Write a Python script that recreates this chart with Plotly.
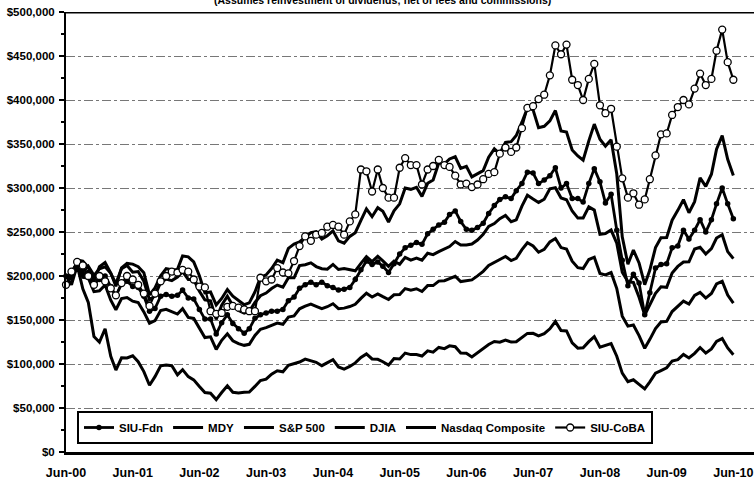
import pandas as pd
import plotly.graph_objects as go

# Monthly values, Jun-00 .. Jun-10 (thousands of dollars)
months = pd.date_range("2000-06-01", periods=121, freq="MS")

siu_fdn = [200, 199, 212, 202, 204, 191, 196, 200, 188, 177, 191, 194,
           188, 187, 177, 160, 163, 177, 179, 177, 178, 184, 175, 174,
           162, 151, 151, 134, 147, 156, 146, 140, 135, 140, 152, 156,
           158, 160, 160, 162, 172, 176, 186, 190, 193, 190, 193, 189,
           187, 184, 185, 187, 196, 207, 217, 213, 216, 211, 204, 214,
           225, 232, 235, 238, 236, 248, 253, 258, 261, 270, 274, 262,
           253, 252, 255, 260, 271, 280, 287, 290, 288, 297, 305, 318,
           317, 305, 309, 314, 323, 300, 305, 288, 288, 284, 305, 322,
           307, 283, 293, 252, 218, 189, 202, 192, 156, 181, 209, 213,
           214, 232, 234, 252, 242, 252, 264, 250, 264, 282, 300, 282,
           265]

mdy = [200.0, 196.2, 218.3, 217.0, 209.9, 194.2, 210.5, 215.4, 203.4, 188.3, 209.2, 214.3,
       213.5, 210.6, 203.8, 178.5, 186.5, 200.3, 208.3, 207.2, 207.5, 222.7, 221.8, 216.0,
       200.3, 180.8, 181.8, 167.2, 174.5, 184.7, 177.1, 172.2, 167.4, 169.5, 181.9, 198.4,
       201.3, 208.5, 218.0, 215.1, 231.4, 236.4, 238.7, 244.1, 249.3, 250.3, 242.0, 245.8,
       251.3, 239.9, 237.3, 245.0, 249.2, 263.1, 276.3, 267.4, 277.6, 273.6, 261.4, 274.1,
       282.0, 299.9, 298.5, 300.8, 290.5, 305.3, 309.2, 328.5, 327.5, 333.0, 335.5, 322.3,
       324.6, 312.6, 316.0, 319.8, 335.1, 344.5, 338.9, 351.8, 352.6, 359.6, 374.8, 390.7,
       388.8, 368.6, 370.1, 376.3, 388.0, 364.9, 363.7, 343.3, 336.4, 331.5, 353.6, 372.6,
       355.4, 347.6, 354.7, 315.9, 244.5, 213.4, 229.4, 214.9, 190.1, 206.7, 232.3, 243.4,
       243.8, 263.4, 274.6, 286.7, 271.9, 284.5, 311.5, 301.8, 315.7, 344.0, 359.5, 332.6,
       314.1]

sp500 = [200.0, 197.0, 209.3, 198.4, 197.7, 182.2, 183.2, 189.8, 172.5, 161.7, 174.4, 175.5,
         171.4, 169.8, 159.2, 146.3, 149.2, 160.7, 162.2, 159.8, 156.8, 162.8, 153.0, 151.8,
         141.0, 130.0, 130.9, 116.6, 126.9, 134.3, 126.4, 123.2, 121.2, 122.4, 132.5, 139.5,
         141.4, 143.9, 146.6, 145.1, 153.3, 154.6, 162.7, 165.7, 168.0, 165.5, 162.9, 165.1,
         168.5, 162.9, 163.5, 165.3, 167.8, 174.6, 180.4, 176.1, 179.7, 176.5, 173.3, 178.6,
         179.0, 185.7, 183.9, 185.5, 182.4, 189.1, 189.1, 194.2, 194.6, 197.0, 199.7, 193.7,
         194.4, 195.6, 200.1, 205.3, 212.0, 215.8, 218.8, 222.2, 217.6, 220.1, 229.9, 237.8,
         234.2, 227.0, 230.3, 238.8, 242.6, 232.3, 230.6, 216.8, 209.5, 208.5, 218.7, 221.4,
         202.9, 201.2, 203.9, 185.7, 154.4, 143.0, 144.3, 132.2, 117.8, 128.0, 140.2, 147.8,
         148.4, 159.6, 165.1, 171.4, 168.2, 177.9, 181.4, 174.9, 180.2, 191.0, 194.0, 178.3,
         169.3]

djia = [200.0, 201.7, 215.3, 204.7, 211.1, 200.7, 208.2, 210.4, 203.1, 191.4, 208.3, 212.0,
        204.3, 205.0, 194.1, 172.9, 177.5, 193.0, 196.5, 194.8, 198.8, 204.9, 196.1, 196.0,
        182.7, 172.9, 171.7, 150.7, 166.9, 177.1, 166.3, 160.8, 157.8, 160.0, 169.9, 177.6,
        180.6, 185.8, 189.7, 187.2, 198.0, 198.0, 211.8, 212.8, 215.0, 210.7, 208.3, 207.8,
        213.2, 207.4, 208.4, 206.8, 205.9, 214.4, 222.0, 216.3, 222.3, 217.2, 211.0, 217.0,
        213.3, 221.2, 218.1, 220.3, 217.9, 225.9, 224.3, 227.7, 230.6, 233.5, 239.2, 235.3,
        235.2, 236.3, 240.8, 247.4, 256.3, 259.6, 265.1, 268.8, 261.7, 263.8, 279.4, 291.8,
        287.5, 283.6, 287.2, 299.1, 300.3, 288.6, 286.7, 273.8, 265.8, 266.0, 278.5, 274.9,
        247.3, 248.2, 252.2, 237.3, 204.2, 193.6, 192.7, 175.9, 155.5, 167.8, 180.3, 187.8,
        187.1, 203.4, 210.9, 215.9, 216.2, 230.6, 232.7, 225.0, 231.1, 243.2, 246.9, 227.7,
        219.8]

nasdaq = [200.0, 190.0, 212.2, 185.4, 170.1, 131.2, 124.8, 140.1, 108.8, 93.1, 107.0, 106.8,
          109.3, 102.6, 91.4, 75.9, 85.6, 97.9, 98.9, 98.0, 87.8, 93.6, 85.6, 82.0,
          74.4, 67.5, 66.8, 59.6, 67.6, 75.2, 67.8, 67.1, 68.0, 68.2, 74.5, 81.2,
          82.7, 88.5, 92.3, 91.1, 98.5, 100.0, 102.2, 105.5, 103.7, 101.9, 98.1, 101.7,
          104.9, 96.7, 94.2, 97.2, 101.2, 107.4, 111.5, 105.7, 105.3, 102.6, 98.7, 106.3,
          105.7, 112.4, 110.7, 110.7, 109.1, 114.9, 113.5, 118.8, 117.5, 120.6, 119.7, 112.4,
          112.1, 108.0, 112.7, 116.6, 122.2, 125.6, 124.8, 127.3, 124.9, 125.2, 130.6, 134.8,
          134.9, 131.9, 134.5, 140.0, 148.3, 138.0, 137.6, 124.1, 118.0, 118.4, 125.4, 131.1,
          119.2, 121.0, 123.2, 108.9, 89.6, 80.0, 82.1, 76.9, 71.8, 79.7, 89.5, 92.5,
          95.7, 103.3, 104.9, 110.8, 106.8, 112.1, 118.7, 112.4, 117.2, 125.6, 128.9, 118.3,
          110.5]

siu_coba = [190, 205, 216, 212, 200, 190, 200, 194, 186, 178, 192, 200,
            196, 190, 180, 166, 180, 194, 200, 205, 204, 207, 205, 196,
            188, 187, 160, 157, 158, 165, 166, 164, 162, 160, 160, 198,
            194, 196, 209, 204, 203, 217, 234, 245, 240, 247, 249, 256,
            258, 256, 247, 262, 270, 321, 319, 296, 321, 300, 289, 289,
            323, 334, 326, 326, 304, 321, 325, 332, 326, 324, 314, 304,
            305, 301, 304, 310, 316, 318, 339, 346, 341, 346, 368, 391,
            393, 401, 406, 428, 462, 452, 463, 423, 417, 400, 424, 441,
            394, 385, 390, 347, 311, 289, 294, 281, 287, 310, 337, 361,
            362, 383, 392, 400, 395, 413, 430, 417, 424, 456, 480, 443,
            423]

y_tick_vals = [0, 50, 100, 150, 200, 250, 300, 350, 400, 450, 500]
y_tick_text = ["$0", "$50,000", "$100,000", "$150,000", "$200,000", "$250,000",
               "$300,000", "$350,000", "$400,000", "$450,000", "$500,000"]
x_tick_vals = ["2000-06-01", "2001-06-01", "2002-06-01", "2003-06-01", "2004-06-01",
               "2005-06-01", "2006-06-01", "2007-06-01", "2008-06-01", "2009-06-01",
               "2010-06-01"]
x_tick_text = ["Jun-00", "Jun-01", "Jun-02", "Jun-03", "Jun-04", "Jun-05",
               "Jun-06", "Jun-07", "Jun-08", "Jun-09", "Jun-10"]

FONT = "Liberation Sans, Arial, sans-serif"

fig = go.Figure()
fig.add_trace(go.Scatter(x=months, y=siu_fdn, name="SIU-Fdn", mode="lines+markers",
                         line=dict(color="black", width=2.8),
                         marker=dict(symbol="circle", size=5.5, color="black"),
                         cliponaxis=False))
fig.add_trace(go.Scatter(x=months, y=mdy, name="MDY", mode="lines",
                         line=dict(color="black", width=3), cliponaxis=False))
fig.add_trace(go.Scatter(x=months, y=sp500, name="S&P 500", mode="lines",
                         line=dict(color="black", width=3), cliponaxis=False))
fig.add_trace(go.Scatter(x=months, y=djia, name="DJIA", mode="lines",
                         line=dict(color="black", width=3), cliponaxis=False))
fig.add_trace(go.Scatter(x=months, y=nasdaq, name="Nasdaq Composite", mode="lines",
                         line=dict(color="black", width=3), cliponaxis=False))
fig.add_trace(go.Scatter(x=months, y=siu_coba, name="SIU-CoBA", mode="lines+markers",
                         line=dict(color="black", width=2.2),
                         marker=dict(symbol="circle", size=7, color="white",
                                     line=dict(color="black", width=1.3)),
                         cliponaxis=False))

fig.add_shape(type="line", xref="paper", yref="y", x0=0, x1=1, y0=500, y1=500,
              line=dict(color="black", width=3))

fig.add_annotation(text="(Assumes reinvestment of dividends; net of fees and commissions)",
                   xref="paper", yref="paper", x=(382 - 66) / 688, y=1.027,
                   showarrow=False, xanchor="center", yanchor="middle",
                   font=dict(family=FONT, size=10.5, color="black", weight="bold"))

fig.update_layout(
    width=754, height=485,
    margin=dict(l=66, r=0, t=12, b=33),
    paper_bgcolor="white", plot_bgcolor="white",
    font=dict(family=FONT, size=11, color="black", weight="bold"),
    showlegend=True,
    legend=dict(orientation="h", x=(77 - 66) / 688, y=(452 - 444) / 440,
                xanchor="left", yanchor="bottom",
                bgcolor="white", bordercolor="black", borderwidth=2,
                font=dict(family=FONT, size=11.5, color="black", weight="bold"),
                tracegroupgap=0, itemwidth=30),
    xaxis=dict(type="date", range=["2000-06-01", "2010-09-22"],
               tickvals=x_tick_vals, ticktext=x_tick_text,
               showgrid=False, zeroline=False,
               showline=True, linecolor="black", linewidth=2.5,
               ticks="", ticklabelstandoff=7,
               tickfont=dict(family=FONT, size=12.5, color="black", weight="bold")),
    yaxis=dict(range=[0, 500], tickvals=y_tick_vals, ticktext=y_tick_text,
               showgrid=True, gridcolor="#777777", griddash="dashdot", gridwidth=1,
               zeroline=False, showline=True, linecolor="black", linewidth=2,
               ticks="outside", ticklen=5, tickwidth=1.5, tickcolor="black",
               ticklabelstandoff=2,
               minor=dict(ticks="outside", ticklen=3, tickcolor="black", dtick=25,
                          tick0=0, showgrid=False),
               tickfont=dict(family=FONT, size=11.5, color="black", weight="bold")),
)

fig.write_html("out.html", config={"displayModeBar": False},
               post_script="document.body.style.margin='0';")
